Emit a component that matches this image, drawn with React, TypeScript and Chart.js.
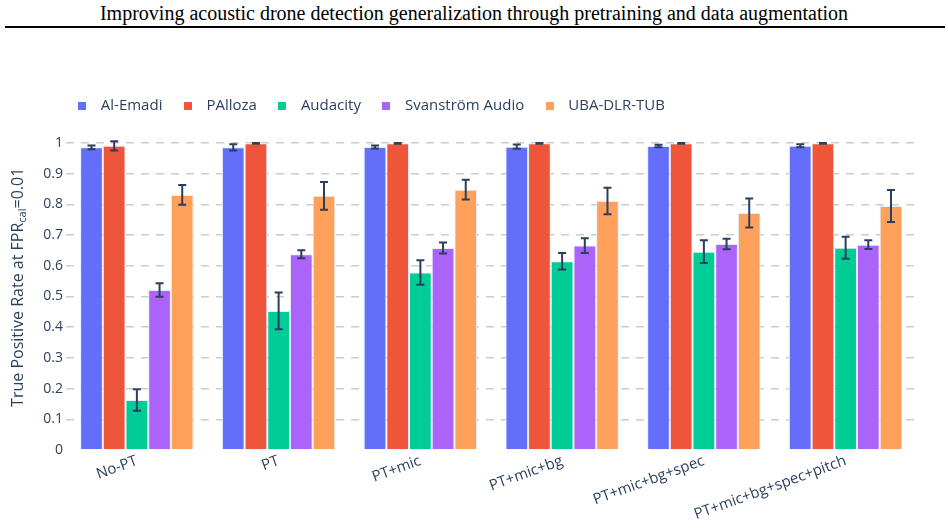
import React, { useEffect, useRef } from 'react';
import { Chart, registerables } from 'chart.js';

Chart.register(...registerables);

// ---------------- data ----------------
const categories = ['No-PT', 'PT', 'PT+mic', 'PT+mic+bg', 'PT+mic+bg+spec', 'PT+mic+bg+spec+pitch'];
const seriesNames = ['Al-Emadi', 'PAlloza', 'Audacity', 'Svanström Audio', 'UBA-DLR-TUB'];
const seriesColors = ['#636EFA', '#EF553B', '#00CC96', '#AB63FA', '#FFA15A'];

const alEmadi = [0.986, 0.986, 0.987, 0.988, 0.99, 0.991];
const alEmadiErr = [0.006, 0.01, 0.005, 0.007, 0.004, 0.005];
const palloza = [0.991, 0.999, 0.999, 0.999, 0.999, 0.999];
const pallozaErr = [0.015, 0.001, 0.001, 0.001, 0.001, 0.001];
const audacity = [0.163, 0.453, 0.578, 0.615, 0.646, 0.659];
const audacityErr = [0.035, 0.06, 0.04, 0.027, 0.037, 0.036];
const svanstrom = [0.521, 0.638, 0.658, 0.666, 0.671, 0.669];
const svanstromErr = [0.022, 0.013, 0.018, 0.024, 0.017, 0.014];
const uba = [0.831, 0.828, 0.848, 0.811, 0.772, 0.795];
const ubaErr = [0.032, 0.045, 0.032, 0.043, 0.047, 0.052];

const yTicks = [0, 0.1, 0.2, 0.3, 0.4, 0.5, 0.6, 0.7, 0.8, 0.9, 1];
const yTickLabels = ['0', '0.1', '0.2', '0.3', '0.4', '0.5', '0.6', '0.7', '0.8', '0.9', '1'];

const titleText = 'Improving acoustic drone detection generalization through pretraining and data augmentation';
const yTitleMain = 'True Positive Rate at FPR';
const yTitleSub = 'cal';
const yTitleEnd = '=0.01';

const seriesValues = [alEmadi, palloza, audacity, svanstrom, uba];
const seriesErrors = [alEmadiErr, pallozaErr, audacityErr, svanstromErr, ubaErr];

// ---------------- style ----------------
const TEXT = '#2a3f5f';
const FONT = "'Open Sans', sans-serif";
const CANVAS_W = 948;
const CANVAS_H = 498;
const LEGEND_H = 60;
const LEGEND_PAD = 14.5;
const LEGEND_LEFT = 56.8;
const LEGEND_TOP = 53.7;

function squareStyle(color: string) {
  const c = document.createElement('canvas');
  c.width = 8;
  c.height = 8;
  const g = c.getContext('2d')!;
  g.fillStyle = color;
  g.fillRect(0, 0, 8, 8);
  return c;
}

const errorBarPlugin = {
  id: 'errorBars',
  afterDatasetsDraw(chart: any) {
    const ctx = chart.ctx;
    const yScale = chart.scales.y;
    ctx.save();
    ctx.strokeStyle = TEXT;
    ctx.lineWidth = 2;
    chart.data.datasets.forEach((ds: any, i: number) => {
      const meta = chart.getDatasetMeta(i);
      meta.data.forEach((el: any, j: number) => {
        const v = ds.data[j];
        const e = ds.errorBars[j];
        const x = el.x;
        const yt = yScale.getPixelForValue(v + e);
        const yb = yScale.getPixelForValue(v - e);
        ctx.beginPath();
        ctx.moveTo(x, yt);
        ctx.lineTo(x, yb);
        ctx.moveTo(x - 4, yt);
        ctx.lineTo(x + 4, yt);
        ctx.moveTo(x - 4, yb);
        ctx.lineTo(x + 4, yb);
        ctx.stroke();
      });
    });
    ctx.restore();
  },
};

const yTitlePlugin = {
  id: 'yTitle',
  afterDraw(chart: any) {
    const ctx = chart.ctx;
    const area = chart.chartArea;
    const cy = (area.top + area.bottom) / 2;
    const mainFont = `16px ${FONT}`;
    const subFont = `11px ${FONT}`;
    ctx.save();
    ctx.font = mainFont;
    const w1 = ctx.measureText(yTitleMain).width;
    const w3 = ctx.measureText(yTitleEnd).width;
    ctx.font = subFont;
    const w2 = ctx.measureText(yTitleSub).width;
    const total = w1 + w2 + w3;
    ctx.translate(18, cy);
    ctx.rotate(-Math.PI / 2);
    ctx.fillStyle = TEXT;
    ctx.textBaseline = 'middle';
    ctx.textAlign = 'left';
    let x = -total / 2;
    ctx.font = mainFont;
    ctx.fillText(yTitleMain, x, 0);
    x += w1;
    ctx.font = subFont;
    ctx.fillText(yTitleSub, x, 5);
    x += w2;
    ctx.font = mainFont;
    ctx.fillText(yTitleEnd, x, 0);
    ctx.restore();
  },
};

const legendPosPlugin = {
  id: 'legendPos',
  beforeLayout(chart: any) {
    const lg = chart.legend;
    if (lg && !lg.__patched) {
      const orig = lg.fit.bind(lg);
      lg.fit = function () {
        orig();
        lg.height = LEGEND_H;
      };
      lg.__patched = true;
    }
  },
  afterLayout(chart: any) {
    const lg = chart.legend;
    if (!lg) return;
    const w = lg.right - lg.left;
    const h = lg.bottom - lg.top;
    lg.left = LEGEND_LEFT;
    lg.right = LEGEND_LEFT + w;
    lg.top = LEGEND_TOP;
    lg.bottom = LEGEND_TOP + h;
  },
};

export default function App() {
  const ref = useRef<HTMLCanvasElement | null>(null);

  useEffect(() => {
    if (!ref.current) return;
    const datasets = seriesNames.map((name, i) => ({
      label: name,
      data: seriesValues[i],
      errorBars: seriesErrors[i],
      backgroundColor: seriesColors[i],
      borderColor: '#E5ECF6',
      borderWidth: 1,
      categoryPercentage: 0.8,
      barPercentage: 1,
    }));
    const chart = new Chart(ref.current, {
      type: 'bar',
      data: { labels: categories, datasets: datasets as any },
      options: {
        animation: false,
        responsive: false,
        devicePixelRatio: 1,
        layout: { padding: { top: 94.6 - LEGEND_H, left: 0, right: 31.5, bottom: 0 } },
        plugins: {
          title: { display: false },
          tooltip: { enabled: false },
          legend: {
            display: true,
            position: 'top',
            align: 'start',
            labels: {
              usePointStyle: true,
              pointStyleWidth: 22,
              padding: LEGEND_PAD,
              color: TEXT,
              font: { family: FONT, size: 15 },
              generateLabels: (ch: any) => {
                const items = Chart.defaults.plugins.legend.labels.generateLabels(ch);
                return items.map((it: any, i: number) => ({
                  ...it,
                  pointStyle: squareStyle(seriesColors[i]),
                  lineWidth: 0,
                  strokeStyle: 'rgba(0,0,0,0)',
                }));
              },
            },
          },
        },
        scales: {
          x: {
            grid: { display: false, drawTicks: false },
            border: { display: false },
            ticks: {
              color: TEXT,
              font: { family: FONT, size: 15 },
              minRotation: 20,
              maxRotation: 20,
              autoSkip: false,
              padding: 2,
            },
            afterFit: (s: any) => {
              s.height = 78;
            },
          },
          y: {
            min: 0,
            max: 1.06,
            grid: {
              color: (c: any) => (c.tick && c.tick.value === 0 ? 'rgba(0,0,0,0)' : '#cccccc'),
              lineWidth: 1.5,
              drawTicks: false,
            },
            border: { display: false, dash: [8, 7] },
            ticks: {
              color: TEXT,
              font: { family: FONT, size: 14 },
              padding: 3,
              includeBounds: false,
              callback: (_v: any, i: number) => yTickLabels[i],
            },
            afterBuildTicks: (s: any) => {
              s.ticks = yTicks.map((v) => ({ value: v }));
            },
            afterFit: (s: any) => {
              s.width = 66;
            },
          },
        },
      },
      plugins: [errorBarPlugin, yTitlePlugin, legendPosPlugin],
    } as any);
    return () => chart.destroy();
  }, []);

  return (
    <div style={{ position: 'fixed', left: 0, top: 0, width: 948, height: 528, background: '#fff', overflow: 'hidden' }}>
      <div
        style={{
          position: 'absolute',
          left: 0,
          top: 2,
          width: 948,
          textAlign: 'center',
          fontFamily: "'Liberation Serif', 'Times New Roman', serif",
          fontSize: 20,
          lineHeight: '22px',
          color: '#000',
          whiteSpace: 'nowrap',
        }}
      >
        {titleText}
      </div>
      <div style={{ position: 'absolute', left: 5, top: 26, width: 940, height: 1.5, background: '#000' }} />
      <div style={{ position: 'absolute', left: 0, top: 30 }}>
        <canvas ref={ref} width={CANVAS_W} height={CANVAS_H} style={{ display: 'block' }} />
      </div>
    </div>
  );
}
